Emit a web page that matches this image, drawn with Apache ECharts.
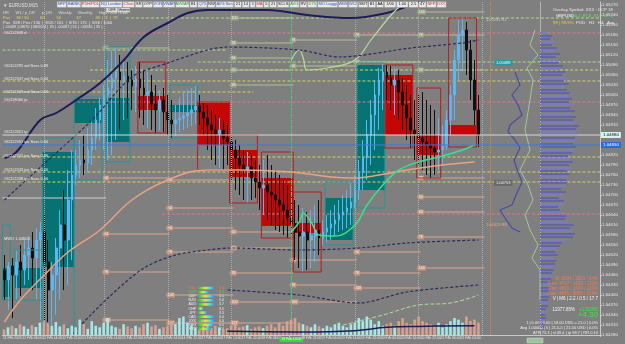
<!DOCTYPE html>
<html>
<head>
<meta charset="utf-8">
<script src="https://cdn.jsdelivr.net/npm/echarts/dist/echarts.min.js"></script>
<style>
  html, body { margin: 0; padding: 0; background: #7f7f7f; }
  #chart { width: 625px; height: 344px; }
</style>
</head>
<body>
<div id="chart"></div>
<script>
// time axis labels (one every 5 bars, first at bar 2)
var tickLabels = ['11 Feb 2025', '12 Feb 06:00', '12 Feb 14:00', '12 Feb 22:00', '13 Feb 06:00', '13 Feb 14:00',
  '13 Feb 22:00', '14 Feb 06:00', '14 Feb 14:00', '14 Feb 22:00', '17 Feb 06:00', '17 Feb 14:00',
  '17 Feb 22:00', '18 Feb 06:00', '18 Feb 14:00', '18 Feb 22:00', '19 Feb 06:00', '19 Feb 14:00',
  '19 Feb 22:00', '20 Feb 06:00', '20 Feb 14:00', '20 Feb 22:00', '21 Feb 06:00', '21 Feb 14:00'];

// candles
var opens = [1.04475,1.04445,1.04487,1.04460,1.04499,1.04475,1.04520,1.04541,1.04511,1.04565,
  1.04589,1.04499,1.04415,1.04460,1.04541,1.04610,1.04565,1.04685,1.04760,1.04790,
  1.04805,1.04796,1.04835,1.04871,1.04925,1.04970,1.05000,1.05021,1.05051,1.05069,
  1.05045,1.05057,1.05045,1.05027,1.05048,1.05021,1.05000,1.05009,1.04973,1.04955,
  1.04985,1.04949,1.04925,1.04913,1.04925,1.04931,1.04937,1.04946,1.04955,1.04967,
  1.04949,1.04931,1.04910,1.04895,1.04883,1.04895,1.04871,1.04859,1.04835,1.04811,
  1.04790,1.04775,1.04784,1.04751,1.04739,1.04721,1.04730,1.04709,1.04700,1.04685,
  1.04670,1.04655,1.04631,1.04613,1.04589,1.04577,1.04589,1.04565,1.04577,1.04595,
  1.04571,1.04589,1.04601,1.04613,1.04625,1.04640,1.04649,1.04661,1.04679,1.04715,
  1.04769,1.04811,1.04880,1.04940,1.05000,1.05045,1.05069,1.05051,1.05030,1.05045,
  1.05009,1.04970,1.04931,1.04895,1.04883,1.04871,1.04859,1.04850,1.04841,1.04829,
  1.04835,1.04847,1.04925,1.05000,1.05105,1.05180,1.05195,1.05135,1.05045,1.04955];
var closes = [1.04445,1.04487,1.04460,1.04499,1.04475,1.04520,1.04541,1.04511,1.04565,1.04589,
  1.04499,1.04415,1.04460,1.04541,1.04610,1.04565,1.04685,1.04760,1.04790,1.04805,
  1.04796,1.04835,1.04871,1.04925,1.04970,1.05000,1.05021,1.05051,1.05069,1.05045,
  1.05057,1.05039,1.05027,1.05048,1.05021,1.05000,1.05009,1.04973,1.04955,1.04985,
  1.04949,1.04925,1.04913,1.04925,1.04931,1.04937,1.04946,1.04955,1.04967,1.04949,
  1.04931,1.04910,1.04895,1.04883,1.04895,1.04871,1.04859,1.04835,1.04811,1.04790,
  1.04775,1.04784,1.04751,1.04739,1.04721,1.04730,1.04709,1.04700,1.04685,1.04670,
  1.04655,1.04631,1.04613,1.04589,1.04577,1.04589,1.04565,1.04577,1.04595,1.04571,
  1.04589,1.04601,1.04613,1.04625,1.04640,1.04649,1.04661,1.04679,1.04715,1.04769,
  1.04811,1.04880,1.04940,1.05000,1.05045,1.05069,1.05051,1.05030,1.05045,1.05009,
  1.04970,1.04931,1.04895,1.04883,1.04871,1.04859,1.04850,1.04841,1.04829,1.04835,
  1.04847,1.04925,1.05000,1.05105,1.05180,1.05195,1.05135,1.05045,1.04955,1.04880];
var lows = [1.04385,1.04355,1.04331,1.04385,1.04397,1.04430,1.04445,1.04415,1.04385,1.04325,
  1.04304,1.04319,1.04310,1.04340,1.04385,1.04415,1.04430,1.04505,1.04730,1.04751,
  1.04760,1.04769,1.04790,1.04835,1.04865,1.04835,1.04805,1.04820,1.04865,1.04895,
  1.04925,1.04931,1.04955,1.04949,1.04931,1.04910,1.04901,1.04895,1.04886,1.04895,
  1.04889,1.04880,1.04871,1.04877,1.04889,1.04895,1.04901,1.04907,1.04913,1.04910,
  1.04880,1.04835,1.04805,1.04790,1.04781,1.04775,1.04790,1.04745,1.04715,1.04700,
  1.04685,1.04676,1.04685,1.04691,1.04655,1.04640,1.04625,1.04610,1.04595,1.04589,
  1.04580,1.04571,1.04571,1.04505,1.04481,1.04469,1.04475,1.04481,1.04499,1.04520,
  1.04550,1.04559,1.04565,1.04577,1.04589,1.04595,1.04601,1.04610,1.04661,1.04685,
  1.04715,1.04745,1.04790,1.04835,1.04895,1.04955,1.04985,1.04955,1.04940,1.04925,
  1.04895,1.04865,1.04841,1.04805,1.04790,1.04775,1.04760,1.04751,1.04760,1.04775,
  1.04790,1.04835,1.04880,1.04925,1.05045,1.05075,1.05060,1.04985,1.04910,1.04844];
var highs = [1.04520,1.04499,1.04511,1.04535,1.04550,1.04565,1.04577,1.04589,1.04601,1.04619,
  1.04640,1.04565,1.04499,1.04571,1.04655,1.04715,1.04775,1.04835,1.04835,1.04865,
  1.04880,1.04901,1.04925,1.04961,1.04991,1.05030,1.05105,1.05135,1.05144,1.05120,
  1.05105,1.05099,1.05075,1.05087,1.05099,1.05075,1.05069,1.05060,1.05030,1.05015,
  1.05021,1.05000,1.04985,1.04970,1.04991,1.05009,1.05015,1.05021,1.05030,1.05000,
  1.04976,1.04970,1.04955,1.04940,1.04931,1.04925,1.04910,1.04880,1.04865,1.04850,
  1.04835,1.04829,1.04820,1.04805,1.04790,1.04805,1.04820,1.04790,1.04775,1.04760,
  1.04745,1.04730,1.04700,1.04685,1.04670,1.04661,1.04649,1.04655,1.04670,1.04685,
  1.04625,1.04640,1.04655,1.04670,1.04685,1.04700,1.04715,1.04739,1.04760,1.04805,
  1.04865,1.04925,1.04985,1.05045,1.05081,1.05096,1.05090,1.05087,1.05081,1.05075,
  1.05051,1.05030,1.05000,1.04985,1.05000,1.05009,1.04985,1.04970,1.04955,1.04931,
  1.04910,1.04955,1.05030,1.05135,1.05225,1.05231,1.05219,1.05165,1.05105,1.05000];
var volumes = [18,25,30,22,35,28,20,32,26,40, 45,38,30,42,28,35,22,30, 25,50,35,20,45,30,25,
  40,55,30,25,20,35,28, 22,30,25,35,40,28,32,20,25, 30,45,35,55,60,40,30,25,
  20,28,35,22,30,25,18,22, 30,35,25,28,32,20,25, 28,22,30,35,25,40,30,45,50,
  55,40,35,30,25,35,28, 22,30,25,35,40,30,25,35, 40,55,45,60,50,35,45,30,
  35,40,30,45,55,40,35, 50,60,45,40,35,30,40,25, 35,45,55,50,40,60,45,50,40];
var volumeAvg = [[56,12],[74,10],[88,14],[96,25],[104,28],[118,30]];

// indicator curves [bar, price]
var navyLine = [[0,1.04811],[3,1.04829],[9,1.04925],[13,1.04946],[18,1.04985],[24,1.05036],[30,1.05105],
  [35,1.05174],[41,1.05216],[46,1.05246],[51,1.05255],[66,1.05255],[76,1.05240],[87,1.05231],
  [96,1.05246],[102,1.05270],[106,1.05285],[118,1.05315]];
var salmonLine = [[0,1.04319],[4,1.04385],[10,1.04460],[16,1.04529],[24,1.04595],[32,1.04685],[41,1.04745],
  [51,1.04775],[59,1.04775],[72,1.04769],[82,1.04754],[88,1.04751],[94,1.04760],[101,1.04775],
  [110,1.04790],[118,1.04799]];
var greenLine = [[72,1.04589],[74,1.04619],[75,1.04646],[77,1.04619],[79,1.04580],[83,1.04577],[88,1.04610],
  [91,1.04670],[95,1.04730],[99,1.04775],[104,1.04799],[110,1.04817],[115,1.04835],[118,1.04850]];
var lightGreenLine = [[72,1.05105],[74,1.05135],[75,1.05111],[76,1.05075],[81,1.05081],[88,1.05105],
  [92,1.05165],[96,1.05225],[99,1.05264],[101,1.05285]];
var paleGreenLow = [[85,1.04310],[95,1.04340],[104,1.04370],[112,1.04376],[119,1.04400]];
var dotLineA = [[0,1.04685],[11,1.04805],[22,1.04925],[32,1.05054],[41,1.05096],[51,1.05135],[56,1.05144],
  [74,1.05135],[84,1.05114],[102,1.05141],[115,1.05156],[119,1.05165]];
var dotLineB = [[16,1.04271],[26,1.04391],[35,1.04481],[43,1.04520],[51,1.04535],[57,1.04541],[74,1.04535],
  [89,1.04541],[101,1.04556],[119,1.04565]];
var dotLineC = [[56,1.04415],[74,1.04400],[89,1.04376],[101,1.04409],[119,1.04430]];

// boxes: [firstBar, lastBar, frameTop, frameBottom, fillTop, fillBottom]
var tealBoxes = [[0,1,1.04610,1.04385,1.04481,1.04394],[3,9,1.04535,1.04385,1.04481,1.04421],
  [10,17,1.04871,1.04304,1.04829,1.04484],[18,24,1.04994,1.04745,1.04988,1.04916],
  [26,31,1.05144,1.04799,1.04991,1.04859],[42,48,1.05030,1.04871,1.04970,1.04949],
  [81,87,1.04739,1.04550,1.04691,1.04565],[89,95,1.05096,1.04661,1.05090,1.04715]];
var redBoxes = [[34,40,1.05099,1.04886,1.04997,1.04955],[49,56,1.04979,1.04775,1.04976,1.04850],
  [57,63,1.04880,1.04676,1.04835,1.04754],[65,72,1.04829,1.04571,1.04751,1.04607],
  [73,79,1.04709,1.04469,1.04616,1.04586],[96,102,1.05090,1.04841,1.05060,1.04880],
  [104,109,1.05021,1.04751,1.04880,1.04820],[112,118,1.05231,1.04844,1.04910,1.04880]];

// horizontal levels [firstBar, lastBar, price, kind]  kind: 0 yellow, 1 pink, 2 green, 3 grey
var levels = [[31,149,1.05231,2],[0,149,1.05186,1],[0,55,1.05135,2],[49,149,1.05099,2],[22,149,1.05075,0],
  [0,149,1.05042,0],[0,62,1.05009,0],[0,149,1.04979,1],[0,149,1.04814,0],[0,149,1.04769,0],
  [0,149,1.04739,0],[40,149,1.04643,1],[0,25,1.04691,3]];
var pivotLevels = [[25,41,1.04751],[25,41,1.04583],[25,41,1.04469],[25,41,1.04325],
  [41,57,1.04745],[41,57,1.04661],[41,57,1.04601],[41,57,1.04529],[41,57,1.04400],[41,57,1.04316],
  [57,72,1.04589],[57,72,1.04541],[57,72,1.04466],[57,72,1.04379],[57,72,1.04316],
  [72,88,1.04505],[72,88,1.04430],[72,88,1.04379],
  [88,104,1.04529],[88,104,1.04466],[88,104,1.04421],
  [104,120,1.04751],[104,120,1.04694],[104,120,1.04649],[104,120,1.04574],[104,120,1.04481]];
var pivotTags = ['50','64','78','100','38','50','64','78','100','127','50','64','78','100','127',
  '64','78','100','64','78','100','38','50','64','78','100'];
var upperLevels = [[25,41,1.05141],[57,72,1.05231],[57,72,1.05156],[57,72,1.05111],[57,72,1.05075],
  [57,72,1.05030],[72,88,1.05165],[72,88,1.05087],[88,104,1.05180],[88,104,1.05099],
  [104,120,1.05249],[104,120,1.05180],[104,120,1.05075]];
var upperTags = ['50','100','78','64','50','38','78','50','78','50','100','78','50'];

var dayBreaks = [10, 25, 41, 57, 72, 88, 104, 120];
var markerBar = 72;
var orderBar = 122;
var orderLevel = 1.04850;

// volume profile (bins from low to high)
var profileLow = 1.04295;
var profileStep = 0.00009;
var profileVol = [3,4,5,4,6,5,7,6,8,7, 8,9,10,9,11,10,12,11,13,12, 14,13,15,16,14,18,15,17,20,22,
  30,33,35,32,30,34,28,25,26,22, 20,18,22,24,19,23,26,21,25,27, 26,28,30,27,31,29,33,30,28,32,
  34,36,33,38,35,37,40,36,39,35, 33,36,31,35,30,34,29,32,28,30, 27,25,29,24,26,22,25,20,23,19,
  18,16,20,14,17,12,15,10,12,8];
var profileCurveA = [[25,1.05069],[30,1.05030],[22,1.05000],[28,1.04970],[32,1.04940],[20,1.04910],
  [18,1.04889],[25,1.04865],[30,1.04841],[24,1.04805],[28,1.04769],[32,1.04739],[26,1.04700],
  [22,1.04670],[10,1.04655],[15,1.04631],[22,1.04601],[30,1.04589]];
var profileCurveB = [[45,1.05195],[40,1.05150],[48,1.05120],[37,1.05081],[43,1.05045],[40,1.04985],
  [35,1.04895],[40,1.04835],[30,1.04775],[38,1.04730],[43,1.04685],[35,1.04640],[40,1.04595],
  [48,1.04550],[42,1.04511],[50,1.04475],[50,1.04385]];

// currency strength
var strengthNames = ['USD','EUR','GBP','NZD','AUD','CHF','JPY','CAD','XXX','XAG','XAU'];
var strengthBars = [9,6,9,9,9,3,5,9,9,9,7];
var strengthVals = [6.4,6.2,5.1,5.0,3.7,3.5,3.5,0.0,0.0,0.0,0.0];

var toolbarLabels = ['NFP','BA/BK','PDH/PDL','NQ London','Chan','SR','OTP','VOR','VWAP','AVWAP','B1','Q75','NW',
  'AVG Sen','21','14','3','MA','5','21','SCLS','AVG','RV','D75','MO Loggy','WBS','W12','SMT','B1','AA',
  '1/00','1.00','2.5','4Y','NFP','DXY'];
var toolbarTone = ['b','b','r','b','r','k','k','b','b','g','k','b','k','b','k','k','b','r','k','k','k','g','k','g',
  'b','b','b','k','k','k','k','k','k','k','r','r'];

var priceMin = 1.04280, priceMax = 1.05279, priceStep = 0.0003;
var cats = [];
for (var i = 0; i < 150; i++) cats.push(String(i));
var FONT = 'Liberation Sans';

function showTick(index) { return index < 120 && (index - 2) % 5 === 0; }

function boxRender(color, asFill) {
  return function (params, api) {
    var top = asFill ? api.value(4) : api.value(2);
    var bot = asFill ? api.value(5) : api.value(3);
    var a = api.coord([api.value(0), top]);
    var b = api.coord([api.value(1), bot]);
    var bw = api.size([1, 0])[0];
    var shape = { x: a[0] - bw / 2, y: a[1], width: b[0] - a[0] + bw, height: b[1] - a[1] };
    return { type: 'rect', shape: shape,
      style: asFill ? { fill: color } : { fill: 'none', stroke: color, lineWidth: 1 } };
  };
}

var levelStyles = [
  { stroke: '#d4d468', lineDash: [3, 2] },
  { stroke: '#e07895', lineDash: [3, 2] },
  { stroke: '#b2dc84', lineDash: [3, 2] },
  { stroke: '#cfcfcf', lineDash: null }
];

function levelRender(params, api) {
  var a = api.coord([api.value(0), api.value(2)]);
  var b = api.coord([api.value(1), api.value(2)]);
  var hw = api.size([1, 0])[0] / 2;
  var st = levelStyles[api.value(3)];
  return { type: 'line', shape: { x1: a[0] - hw, y1: a[1], x2: b[0] + hw, y2: b[1] },
    style: { stroke: st.stroke, lineWidth: 1, lineDash: st.lineDash } };
}

function taggedRender(lineColor, tags, tagBg, tagFg) {
  return function (params, api) {
    var a = api.coord([api.value(0), api.value(2)]);
    var b = api.coord([api.value(1), api.value(2)]);
    var hw = api.size([1, 0])[0] / 2;
    return { type: 'group', children: [
      { type: 'line', shape: { x1: a[0] - hw, y1: a[1], x2: b[0] + hw, y2: b[1] },
        style: { stroke: lineColor, lineWidth: 1.2 } },
      { type: 'text', x: a[0] - hw + 1, y: a[1],
        style: { text: tags[params.dataIndex], fontSize: 3.6, fontFamily: FONT, fill: tagFg,
          backgroundColor: tagBg, padding: [0.5, 1], verticalAlign: 'middle', textVerticalAlign: 'middle' } }
    ] };
  };
}

// bid / order lines across the price pane with a tag on the price scale
var priceLines = [[lastPrice(), 0], [orderLevel, 1]];
function lastPrice() { return closes[closes.length - 1]; }
var priceLineStyles = [
  { stroke: '#dadada', tagBg: '#d6f4f4', tagFg: '#101010' },
  { stroke: '#3a78e0', tagBg: '#2a6ae0', tagFg: '#ffffff' }
];
function priceLineRender(params, api) {
  var cs = params.coordSys;
  var p = api.value(0);
  var y = api.coord([0, p])[1];
  var st = priceLineStyles[api.value(1)];
  return { type: 'group', children: [
    { type: 'line', shape: { x1: cs.x, y1: y, x2: cs.x + cs.width, y2: y },
      style: { stroke: st.stroke, lineWidth: 1 } },
    { type: 'text', x: cs.x + cs.width + 1, y: y, z2: 50,
      style: { text: p.toFixed(5), fontSize: 4.4, fontFamily: FONT, fill: st.tagFg, backgroundColor: st.tagBg,
        padding: [1, 2], verticalAlign: 'middle', textVerticalAlign: 'middle' } }
  ] };
}

function profileRender(params, api) {
  var p = api.value(1);
  var a = api.coord([0, p]);
  var b = api.coord([api.value(0), p]);
  return { type: 'rect', shape: { x: a[0], y: a[1] - 1, width: b[0] - a[0], height: 2 },
    style: { fill: params.dataIndex % 3 === 0 ? '#7c7cb6' : '#6464a8' } };
}

function curve(data, color, width, dash, smooth) {
  return { type: 'line', data: data, xAxisIndex: 0, yAxisIndex: 0, symbol: 'none', smooth: smooth,
    z: 5, silent: true, lineStyle: { color: color, width: width, type: dash || 'solid' } };
}

var candleData = opens.map(function (o, k) { return [o, closes[k], lows[k], highs[k]]; });

// ---------- graphic texts ----------
var graphics = [];
function T(x, y, text, fill, size, align) {
  graphics.push({ type: 'text', x: x, y: y, z: 100, silent: true,
    style: { text: text, fill: fill, fontSize: size || 4.5, fontFamily: FONT,
      align: align || 'left', textAlign: align || 'left', verticalAlign: 'top', textVerticalAlign: 'top' } });
}
var toneColor = { b: '#2f4fc8', r: '#d03030', g: '#2c9a2c', k: '#202020' };
var tx = 57;
toolbarLabels.forEach(function (lab, k) {
  var w = lab.length * 2.15 + 3;
  graphics.push({ type: 'rect', z: 99, silent: true, shape: { x: tx, y: 1.5, width: w, height: 6 },
    style: { fill: '#e8e8e8', stroke: '#8c8c8c', lineWidth: 0.5 } });
  T(tx + w / 2, 2.3, lab, toneColor[toolbarTone[k]], 4, 'center');
  tx += w + 0.6;
});
[['OFF', 106], ['Verme', 118]].forEach(function (b) {
  graphics.push({ type: 'rect', z: 99, silent: true, shape: { x: b[1], y: 7.5, width: 12, height: 5 },
    style: { fill: '#d8d8d8', stroke: '#8c8c8c', lineWidth: 0.5 } });
  T(b[1] + 6, 8, b[0], '#202020', 3.8, 'center');
});

T(3, 3, '\u25BC EURUSD,M15', '#e4e4e4', 4.5);
T(3, 11, 'HR      W1 / p_DR      p_DR      Weekly      Monthly      High / Mid / Low', '#dcdcdc', 4);
T(3, 15.5, 'Pos      80 / 90          60           50              67             36  |  6  |  29', '#e6d46a', 4);
T(3, 20.5, 'Pos   828 / Pos / 130  |  8/26 / 161  |  8/76 / 175  |  8/26 / 1000', '#e8e8e8', 4);
T(3, 24.5, '| .00/09 | 08/70 | 08/20/4 | 35 | .00067 | 51 | .03256 | 35 |', '#e8e8e8', 4);

var leftTags = [[31, '#6CD2848 d'], [64, '#6CD2295 wd Sess 0.89'], [77, '#6CD2947 wd Sess 0.00'],
  [90, '#6CD2249 wd Sess 0.00'], [98, '#6CD8060 ip'], [130, '#6CD2651 ip'], [140, '#6CD2951 ipv Sess 0.00'],
  [154, '#6CD2742 ipv Sess 0.86'], [168, '#6CD2243 ipv Sess 0.00'], [177, '#6CD2248 ipv Sess 0.00'],
  [237, 'MWO 1.04603']];
leftTags.forEach(function (t) { T(4, t[0], t[1], '#ececec', 4); });

T(553, 8, 'Overlay Symbol: XXX : DCP 18', '#e6e6e6', 4.3);
T(556, 14, 'GBPUSD', '#ffffff', 4.3);
T(572, 14, '86.1  87.8  87.0  87.3', '#56ee56', 4.3);
T(553, 21, '98 | 99.9%', '#ecd040', 4.3);
T(576, 21, 'POD   H1   H4   Avg', '#ececec', 4.3);

graphics.push({ type: 'text', x: 494, y: 60, z: 100, silent: true,
  style: { text: '1.05088', fill: '#e8ffff', fontSize: 4, fontFamily: FONT, backgroundColor: '#2a9a9a', padding: [1, 2] } });
graphics.push({ type: 'text', x: 494, y: 180, z: 100, silent: true,
  style: { text: '1.04753', fill: '#f0f0f0', fontSize: 4, fontFamily: FONT, backgroundColor: '#6a6a6a', padding: [1, 2] } });
T(486, 223, '1.04623 RR', '#e0a890', 4);
T(486, 18, '1.05231 R1', '#c8d8b0', 4);

T(598, 276, 'W: 8894 / 3821 / 64%', '#f27a52', 4.5, 'right');
T(598, 281, 'Prev: 4747 / 1630 / 110%', '#f27a52', 4.5, 'right');
T(598, 286, 'Part: 4831 / 1664 / 110%', '#f27a52', 4.5, 'right');
T(598, 291, 'Last: 4856 / 9885 / 104%', '#f27a52', 4.5, 'right');
T(598, 296, 'V | M6 | 2.2 / 0.5 / 17.7', '#f4f4f4', 4.5, 'right');
T(575, 307, '11977.85%', '#f4f4f4', 4.5, 'right');
T(598, 307, '+1.82066', '#36ec36', 4.5, 'right');
T(598, 311, '+4.30', '#36ec36', 8, 'right');
T(598, 321, '1 | 0.00 | 0.00 | 18.00 USD = 21.0 | 0.0%', '#ececec', 4, 'right');
T(598, 326, 'Avg 1.04000 | 0 | 21.5-5 | 21.50 USD | 0.0%', '#ececec', 4, 'right');
T(598, 331, 'ATR 75.3 | sl 49.4 | tp 98.7 | RR 0.10', '#ececec', 4, 'right');
graphics.push({ type: 'rect', z: 99, silent: true, shape: { x: 527, y: 338, width: 16, height: 5 },
  style: { fill: '#9cc49c', stroke: '#c8e0c8', lineWidth: 0.5 } });

var option = {
  backgroundColor: '#7f7f7f',
  animation: false,
  textStyle: { fontFamily: FONT },
  grid: [
    { left: 2, right: 25, top: 2, bottom: 9 },
    { left: 2, right: 25, top: 295, bottom: 9 },
    { left: 540, right: 25, top: 2, bottom: 9 },
    { left: 490, right: 80, top: 2, bottom: 9 },
    { left: 198, right: 409, top: 286, bottom: 13 }
  ],
  xAxis: [
    { type: 'category', gridIndex: 0, data: cats, boundaryGap: true,
      axisLine: { lineStyle: { color: '#cacaca' } },
      axisTick: { show: true, interval: showTick, length: 2, lineStyle: { color: '#cacaca' } },
      axisLabel: { interval: showTick, fontSize: 3.4, color: '#e8e8e8', margin: 2,
        formatter: function (v, idx) {
          var t = tickLabels[(idx - 2) / 5] || '';
          return idx === markerBar ? '{hl|' + t + '}' : t;
        },
        rich: { hl: { backgroundColor: '#3cd63c', color: '#eaffea', fontSize: 3.4, padding: [1, 2] } } },
      splitLine: { show: false } },
    { type: 'category', gridIndex: 1, data: cats, show: false },
    { type: 'value', gridIndex: 2, min: 0, max: 60, show: false },
    { type: 'value', gridIndex: 3, min: 0, max: 55, show: false },
    { type: 'value', gridIndex: 4, min: 0, max: 10, show: false }
  ],
  yAxis: [
    { type: 'value', gridIndex: 0, position: 'right', min: priceMin, max: priceMax, interval: priceStep,
      axisLine: { show: true, lineStyle: { color: '#cacaca' } },
      axisTick: { show: true, length: 2, lineStyle: { color: '#cacaca' } },
      axisLabel: { fontSize: 4.4, color: '#e6e6e6', margin: 2, formatter: function (v) { return v.toFixed(5); } },
      splitLine: { show: false } },
    { type: 'value', gridIndex: 1, min: 0, max: 130, show: false },
    { type: 'value', gridIndex: 2, min: priceMin, max: priceMax, position: 'left',
      axisLine: { show: true, lineStyle: { color: '#b4b4b4' } }, axisTick: { show: false },
      axisLabel: { show: false }, splitLine: { show: false } },
    { type: 'value', gridIndex: 3, min: priceMin, max: priceMax, show: false },
    { type: 'category', gridIndex: 4, data: strengthNames, inverse: true,
      axisLine: { show: false }, axisTick: { show: false },
      axisLabel: { interval: 0, fontSize: 3.6, margin: 2,
        color: function (v, idx) { return idx === 0 ? '#ff6a6a' : (idx === 1 ? '#46e046' : '#f2f2f2'); } } },
    { type: 'category', gridIndex: 4, data: strengthNames, inverse: true, position: 'right',
      axisLine: { show: false }, axisTick: { show: false },
      axisLabel: { interval: 0, fontSize: 3.6, margin: 3,
        formatter: function (v, idx) { return strengthVals[idx].toFixed(1); },
        color: function (v, idx) { return idx === 0 ? '#f27a62' : (idx === 1 ? '#46e046' : '#f2f2f2'); } } }
  ],
  series: [
    { type: 'custom', name: 'tealFill', xAxisIndex: 0, yAxisIndex: 0, data: tealBoxes, z: 1, silent: true,
      renderItem: boxRender('#077272', true) },
    { type: 'custom', name: 'redFill', xAxisIndex: 0, yAxisIndex: 0, data: redBoxes, z: 1, silent: true,
      renderItem: boxRender('#c40606', true) },
    { type: 'custom', name: 'levels', xAxisIndex: 0, yAxisIndex: 0, data: levels, z: 2, silent: true,
      renderItem: levelRender },
    { type: 'custom', name: 'pivots', xAxisIndex: 0, yAxisIndex: 0, data: pivotLevels, z: 2, silent: true,
      renderItem: taggedRender('#dca690', pivotTags, '#c8957f', '#fff2e8') },
    { type: 'custom', name: 'upper', xAxisIndex: 0, yAxisIndex: 0, data: upperLevels, z: 2, silent: true,
      renderItem: taggedRender('#b2c29a', upperTags, '#98a686', '#eef6e0') },
    { type: 'candlestick', name: 'price', xAxisIndex: 0, yAxisIndex: 0, data: candleData, z: 3,
      barWidth: 2.2, silent: true,
      itemStyle: { color: '#5cb6f2', color0: '#101010', borderColor: '#5cb6f2', borderColor0: '#101010', borderWidth: 1 },
      markLine: { silent: true, symbol: 'none', animation: false, label: { show: false },
        data: dayBreaks.map(function (b) { return { xAxis: b, lineStyle: { color: '#ababab', type: 'dotted', width: 1 } }; })
          .concat([
            { xAxis: markerBar, lineStyle: { color: '#3cc868', type: 'dashed', width: 1 } },
            { xAxis: orderBar, lineStyle: { color: '#d89040', type: 'dotted', width: 1 } }
          ]) } },
    { type: 'custom', name: 'tealFrame', xAxisIndex: 0, yAxisIndex: 0, data: tealBoxes, z: 4, silent: true,
      renderItem: boxRender('#2a9494', false) },
    { type: 'custom', name: 'redFrame', xAxisIndex: 0, yAxisIndex: 0, data: redBoxes, z: 4, silent: true,
      renderItem: boxRender('#b81c1c', false) },
    curve(salmonLine, '#eaa282', 1.5, 'solid', 0.4),
    curve(navyLine, '#1c1c58', 2, 'solid', 0.4),
    curve(greenLine, '#3ae08c', 1.5, 'solid', 0.4),
    curve(lightGreenLine, '#b6dc9a', 1.2, 'solid', 0.4),
    curve(paleGreenLow, '#b6dc9a', 1, 'dashed', 0.4),
    curve(dotLineA, '#2a2a62', 1.2, [3, 2], 0.3),
    curve(dotLineB, '#2a2a62', 1.2, [3, 2], 0.3),
    curve(dotLineC, '#2a2a62', 1.2, [3, 2], 0.3),
    { type: 'custom', name: 'priceLines', xAxisIndex: 0, yAxisIndex: 0, z: 8, silent: true, clip: false,
      data: priceLines, encode: { x: -1, y: 0 }, renderItem: priceLineRender },
    { type: 'bar', name: 'volume', xAxisIndex: 1, yAxisIndex: 1, z: 6, barWidth: 2.6, silent: true,
      data: volumes.map(function (v, k) {
        return { value: v, itemStyle: { color: closes[k] >= opens[k] ? '#a6e8e8' : '#d8a090' } };
      }) },
    { type: 'line', name: 'volAvg', xAxisIndex: 1, yAxisIndex: 1, z: 6, data: volumeAvg, symbol: 'none',
      smooth: 0.4, silent: true, lineStyle: { color: '#1c1c58', width: 1.5 } },
    { type: 'custom', name: 'profile', xAxisIndex: 2, yAxisIndex: 2, z: 6, silent: true,
      data: profileVol.map(function (v, k) { return [v, profileLow + k * profileStep]; }),
      renderItem: profileRender },
    { type: 'line', name: 'tpoA', xAxisIndex: 3, yAxisIndex: 3, z: 6, data: profileCurveA, symbol: 'none',
      silent: true, lineStyle: { color: '#4a4aa2', width: 1.2 } },
    { type: 'line', name: 'tpoB', xAxisIndex: 3, yAxisIndex: 3, z: 6, data: profileCurveB, symbol: 'none',
      silent: true, lineStyle: { color: '#a4c4a0', width: 1 } },
    { type: 'bar', name: 'strength', xAxisIndex: 4, yAxisIndex: 4, z: 10, barWidth: 2.6, silent: true,
      data: strengthBars,
      itemStyle: { color: new echarts.graphic.LinearGradient(0, 0, 1, 0, [
        { offset: 0, color: '#22c044' }, { offset: 0.45, color: '#e4e43c' },
        { offset: 0.75, color: '#44e0e0' }, { offset: 1, color: '#4a84f0' }]) } }
  ],
  graphic: graphics
};

var chart = echarts.init(document.getElementById('chart'));
chart.setOption(option);
</script>
</body>
</html>
